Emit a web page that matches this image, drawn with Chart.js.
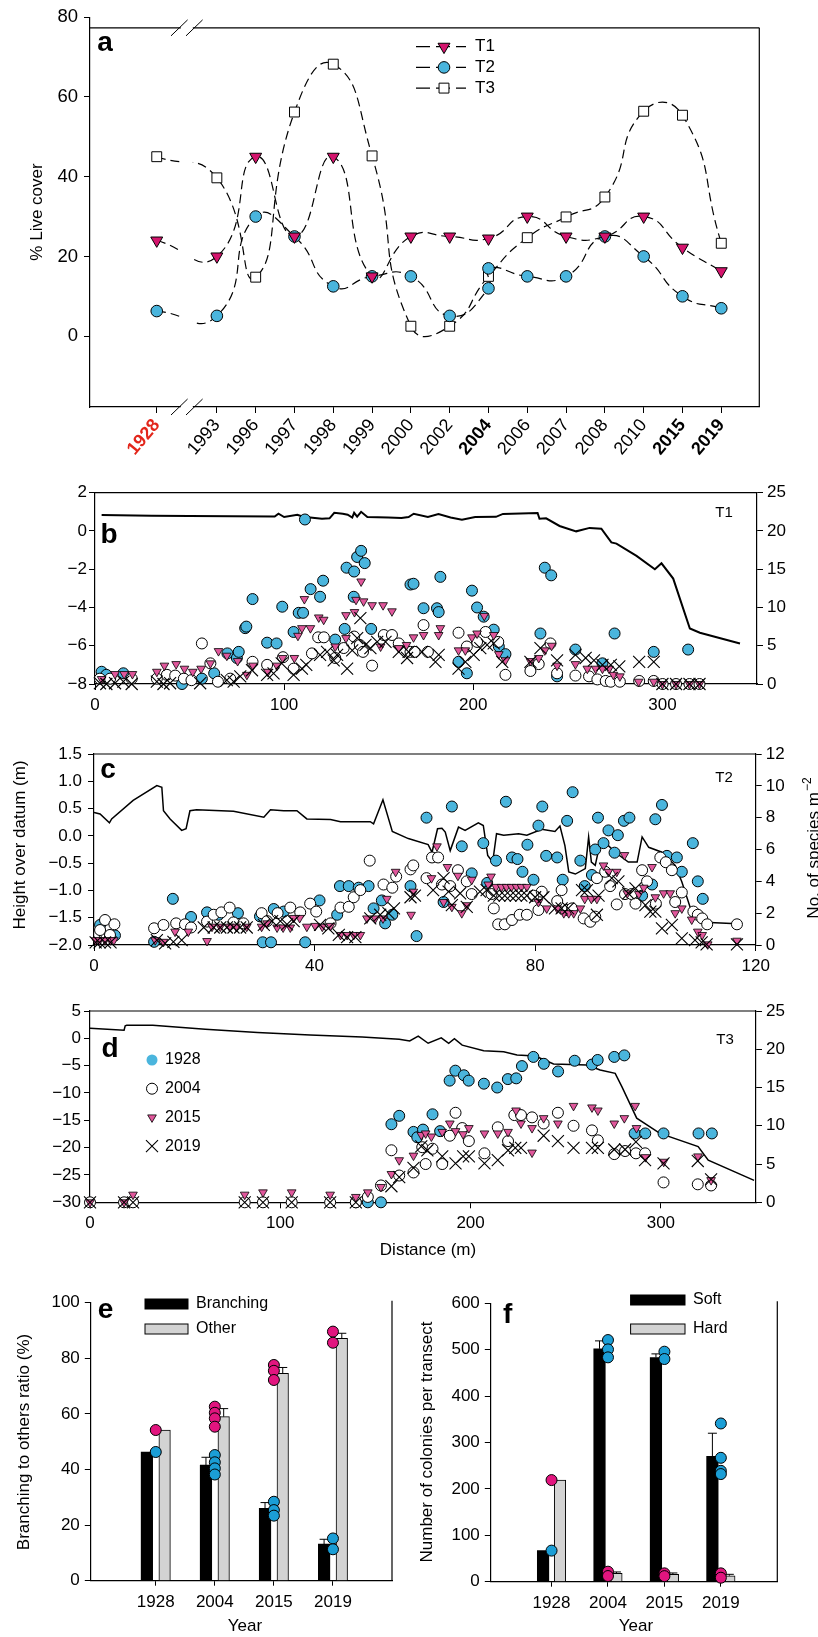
<!DOCTYPE html>
<html>
<head>
<meta charset="utf-8">
<title>Live cover and species along transects</title>
<script src="https://cdn.jsdelivr.net/npm/chart.js@4"></script>
<style>
  html, body { margin: 0; padding: 0; background: #fff; }
  body { position: relative; width: 818px; height: 1637px; overflow: hidden; }
  canvas { position: absolute; }
</style>
</head>
<body>
<script>
// ---------- panel a: % live cover per transect ----------
const yearsA = ['1928', '1993', '1996', '1997', '1998', '1999', '2000', '2002', '2004', '2006', '2007', '2008', '2010', '2015', '2019'];
const boldYearsA = ['1928', '2004', '2015', '2019'];
const redYearA = '1928';
const coverTicks = [0, 20, 40, 60, 80];
const t1Cover = [24, 20, 45, 25, 45, 15, 25, 25, 24.5, 30, 25, 25, 30, 22.2, 16.3];
const t2Cover = [6.3, 5.1, 30, 25, 12.5, 15, 15, 5.1, 12, 15, 15, 25, 20, 10, 7];
const t2Cover2004b = 17; // second 2004 survey on T2
const t3Cover = [45, 39.7, 14.8, 56.2, 68.2, 45.2, 2.5, 2.5, 15, 24.7, 29.9, 34.9, 56.4, 55.4, 23.3];

// ---------- panel b: transect T1 ----------
const distTicks350 = [0, 100, 200, 300];
const heightTicksB = [-8, -6, -4, -2, 0, 2];
const speciesTicks25 = [0, 5, 10, 15, 20, 25];
const profileT1 = [[3.5, 0.83], [30, 0.79], [50, 0.78], [95, 0.75], [97, 0.9], [100, 0.73], [107, 0.85], [110, 0.74], [120, 0.64], [124, 0.66], [126.5, 0.95], [131, 0.9], [133.6, 0.85], [136, 0.7], [137, 0.95], [138.6, 0.75], [140.7, 1.0], [144, 0.73], [155, 0.7], [162, 0.68], [165.8, 0.73], [168.5, 0.9], [176, 0.73], [181.6, 0.89], [188, 0.7], [194, 0.59], [201, 0.73], [212, 0.74], [215.7, 0.89], [234, 0.94], [235, 0.64], [238.5, 0.66], [245.6, 0.26], [254.4, -0.02], [261.5, 0.16], [267.7, 0.12], [273, -0.6], [275.7, -0.66], [286.3, -1.3], [296, -2.0], [299.5, -1.69], [305.7, -2.49], [314.5, -5.1], [319.8, -5.32], [341, -5.88]];
const t1_1928 = [[3.5, 1.6], [6, 1.2], [15, 1.4], [46, 0], [56.5, 0.7], [63, 1.4], [70, 4.0], [75, 3.4], [76, 4.2], [79.4, 7.3], [80, 7.5], [83.3, 11.1], [91, 5.4], [96, 5.3], [99, 10.1], [105, 6.8], [107.7, 9.3], [110, 9.3], [111, 21.5], [114, 12.4], [119, 11.4], [120.6, 13.5], [127, 5.8], [132, 7.2], [133, 15.2], [136.8, 11.4], [137, 14.7], [138.6, 16.6], [140.7, 17.4], [142.6, 15.8], [146, 7.2], [166.8, 13.0], [168.4, 13.1], [173.7, 9.9], [180.8, 9.9], [181.7, 9.4], [182.6, 14.0], [192.2, 2.9], [196.6, 1.4], [199.3, 12.2], [202, 10.0], [205.5, 8.8], [210.8, 7.1], [213.5, 4.9], [217, 3.9], [235.5, 6.6], [237.8, 15.2], [241.2, 14.2], [244.3, 1.0], [254, 4.5], [268.3, 2.7], [274.7, 6.6], [295.4, 4.2], [313.6, 4.5]];
const t1_2004 = [[2.6, 0.7], [8, 0.7], [19.4, 0.7], [32.7, 0.7], [38, 1.2], [42.4, 1.1], [47, 0.7], [51, 0.5], [56.5, 5.3], [61, 2.7], [65, 0.3], [71.5, 0.7], [83.3, 2.9], [91, 2.5], [99.4, 3.5], [105, 2.0], [114.7, 4.0], [118, 6.1], [121, 6.1], [127, 3.4], [131.5, 4.7], [137, 6.2], [140, 5.1], [141.7, 4.2], [146.5, 2.4], [152.7, 6.4], [157, 6.4], [160.6, 5.3], [166.8, 4.2], [169, 4.2], [173.7, 7.7], [176, 4.2], [192.2, 6.7], [196.6, 4.9], [202, 5.5], [206.5, 6.8], [213.2, 5.5], [217, 1.2], [230.2, 1.7], [234.6, 2.6], [240.8, 5.3], [244.3, 1.4], [254, 1.1], [261.2, 1.0], [265.6, 0.6], [270, 0.4], [272.7, 0.3], [277.5, 0.3], [287.7, 0.4], [295.4, 0.4], [300.1, 0], [307.2, 0], [314.3, 0], [319.6, 0]];
const t1_2015 = [[3.5, 0.65], [10.6, 1.3], [15.4, 1.3], [19.8, 1.3], [32.7, 1.6], [36.7, 2.4], [42.9, 2.6], [47.3, 2.0], [51.7, 1.6], [56.1, 2.0], [61, 2.7], [65.3, 4.3], [69.7, 3.7], [75.4, 3.0], [80.3, 1.2], [83.5, 2.4], [91.4, 1.6], [96.2, 2.4], [99.2, 3.4], [105.4, 3.4], [107.3, 6.3], [109.4, 7.3], [110.7, 11.1], [113.9, 7.3], [118.3, 8.7], [120.9, 8.4], [127, 4.9], [132.7, 9.0], [132.7, 6.0], [137.2, 9.4], [138, 11.0], [140.7, 13.4], [142, 10.8], [146.5, 10.3], [151, 4.9], [152.3, 10.3], [157, 9.5], [160.6, 4.7], [164.7, 5.1], [168.4, 6.1], [173.7, 6.4], [181.7, 6.4], [182.6, 7.3], [192.2, 4.4], [195.8, 4.4], [199.3, 6.1], [202, 6.6], [205.8, 8.9], [210.8, 6.4], [213.5, 3.9], [217, 3.1], [230.2, 3.0], [234.6, 3.4], [237.8, 4.4], [241.4, 5.0], [244.3, 2.4], [254, 2.6], [260.3, 2.0], [264.7, 2.0], [268.3, 2.0], [271.8, 2.0], [274.1, 1.2], [277.5, 1.0], [287.4, 0.3], [295.4, 0.3], [300, 0], [307.2, 0], [314.3, 0], [319.6, 0]];
const t1_2019 = [[2.6, 0.1], [6, 0], [10.6, 0.1], [15, 0.3], [19.4, 0], [32.7, 0.3], [36.2, 0], [39.7, 0.1], [55.6, 0.1], [69.7, 0.5], [73.3, 0.3], [76.8, 1.0], [83, 1.8], [91, 1.2], [94.4, 1.4], [98.7, 2.7], [105, 1.2], [109.4, 2.0], [111.7, 2.5], [119, 3.8], [122.7, 4.2], [126.2, 3.1], [128, 3.8], [133.3, 2.0], [136, 4.4], [138.6, 6.0], [140.3, 8.6], [143, 5.1], [145.6, 4.7], [149.2, 5.5], [153.6, 5.5], [160.6, 4.2], [165, 3.4], [165.8, 4.2], [172.9, 4.2], [180, 2.9], [181.7, 3.8], [192.2, 2.0], [195.8, 2.9], [200.2, 3.8], [203.7, 4.7], [207.3, 5.1], [210.8, 5.3], [215.3, 2.9], [230.2, 2.9], [235.5, 4.7], [244.3, 3.1], [254, 3.8], [259.4, 3.4], [263.8, 3.1], [268.3, 2.5], [272.7, 2.5], [277.2, 2.3], [287.7, 2.9], [295.4, 2.9], [300, 0], [307.2, 0], [314.3, 0], [319.6, 0]];

// ---------- panel c: transect T2 ----------
const distTicks120 = [0, 40, 80, 120];
const heightTicksC = [-2, -1.5, -1, -0.5, 0, 0.5, 1, 1.5];
const speciesTicks12 = [0, 2, 4, 6, 8, 10, 12];
const profileT2 = [[0, 0.43], [1.1, 0.40], [2.8, 0.24], [3.2, 0.31], [7.1, 0.65], [11.4, 0.92], [12.3, 0.89], [12.6, 0.46], [13.8, 0.31], [15.9, 0.10], [16.7, 0.13], [17.4, 0.46], [18.6, 0.48], [25.3, 0.45], [30.8, 0.34], [32, 0.48], [34.4, 0.46], [36.8, 0.46], [38.6, 0.31], [42.9, 0.30], [44.7, 0.26], [50.1, 0.26], [50.7, 0.22], [52.4, 0.66], [54.1, 0.08], [57.0, -0.05], [60.6, -0.16], [61.3, -0.30], [62.3, 0.13], [63.1, 0.14], [63.7, 0.07], [64.6, -0.27], [66.1, 0.16], [67.3, 0.10], [69.7, 0.24], [70.6, 0.19], [71.4, -0.36], [72.3, -0.48], [73.0, 0.04], [74.3, 0.01], [77.0, 0.04], [78.5, 0.01], [81.2, 0.12], [83.6, 0.08], [84.5, 0.18], [85.4, -0.18], [86.1, -0.66], [87.3, -0.70], [89.1, -0.60], [89.7, -0.02], [90.2, -0.48], [90.9, -0.54], [91.8, -0.12], [93.3, -0.18], [94.5, -0.30], [96.9, -0.48], [98.5, -0.48], [99.4, -0.02], [100.6, -0.21], [103.0, -0.30], [105.4, -0.54], [106.6, -0.84], [108.4, -1.4], [109.7, -1.58], [116.6, -1.61]];
const t2_1928 = [[1.1, 1.26], [3.8, 0.6], [10.9, 0.2], [14.3, 2.9], [17.6, 1.76], [20.5, 2.05], [22.6, 1.9], [26.1, 2.0], [30.1, 1.8], [30.6, 0.17], [32.1, 0.17], [32.6, 2.26], [34.4, 2.1], [38.3, 0.17], [40.9, 2.8], [44.1, 1.9], [44.6, 3.7], [46.2, 3.7], [48, 3.6], [49.8, 3.7], [50.7, 2.3], [52.2, 2.8], [52.8, 1.36], [54.1, 1.9], [57.4, 3.7], [58.5, 0.56], [60.3, 8.0], [63.4, 2.7], [64.9, 8.7], [66.7, 6.2], [68.5, 4.5], [70.6, 6.4], [71.3, 3.9], [72.9, 5.3], [74.7, 9.0], [75.8, 5.5], [76.8, 5.4], [77.7, 4.6], [78.6, 6.3], [79.7, 4.1], [80.6, 7.5], [81.3, 8.7], [82, 5.6], [84, 5.5], [85, 4.1], [85.8, 7.8], [86.8, 9.6], [88.2, 5.3], [89, 3.7], [90.3, 4.4], [90.9, 6.0], [91.4, 8.0], [92.4, 6.4], [93.3, 7.2], [94.4, 5.8], [95, 6.9], [96.1, 7.8], [97.1, 8.0], [99.4, 3.1], [101.2, 3.8], [101.8, 7.9], [103, 8.8], [103.9, 5.6], [105.7, 5.5], [106.6, 4.6], [108.6, 6.4], [109.5, 4.0], [110.4, 2.9]];
const t2_2004 = [[1.1, 0.94], [2, 1.57], [2.9, 0.63], [3.7, 1.3], [10.9, 1.05], [12.6, 1.26], [14.9, 1.36], [16.5, 1.3], [17.6, 1.1], [20.5, 1.47], [21.7, 1.9], [23.1, 2.05], [24.6, 2.35], [25.3, 1.42], [27.1, 1.36], [30.4, 2.0], [31.4, 1.5], [33.3, 2.0], [35.6, 2.35], [37.4, 2.05], [39.2, 2.6], [40.3, 2.1], [42.9, 1.36], [44.7, 2.35], [46.2, 2.4], [47.1, 3.0], [48.3, 3.45], [50, 5.3], [52.5, 3.8], [54.1, 3.6], [54.8, 4.3], [57.4, 4.75], [57.9, 5.0], [60.3, 4.2], [61.3, 5.5], [62.4, 5.5], [63.1, 3.8], [64.6, 3.7], [66, 4.7], [67.6, 4.0], [68.5, 3.2], [72.1, 3.2], [72.5, 2.3], [73.3, 1.3], [74.5, 1.3], [75.8, 1.57], [77.2, 1.9], [78.5, 1.9], [79.7, 3.1], [80.6, 2.2], [81.2, 3.35], [84, 2.76], [84.8, 3.45], [85.8, 2.2], [86.7, 2.3], [88.8, 1.67], [90, 1.46], [90.9, 1.78], [91.2, 4.2], [92.7, 4.6], [93.6, 3.7], [94.8, 2.55], [96.3, 3.2], [97.5, 3.2], [98.2, 2.6], [99.4, 4.7], [100.3, 4.0], [101.9, 2.6], [102.7, 5.5], [103.7, 5.2], [104.8, 4.7], [105.4, 2.7], [106.6, 3.3], [108.7, 2.1], [109.5, 1.9], [110.3, 1.67], [111.2, 1.3], [116.6, 1.3]];
const t2_2015 = [[0.3, 0.3], [1, 0.3], [2, 0.3], [3, 0.3], [3.6, 0.3], [11.1, 0.3], [12.6, 0.2], [14.7, 0.84], [17.1, 0.84], [20.5, 0.25], [21.4, 1.15], [22.9, 1.15], [24.6, 1.15], [25.8, 1.15], [27.7, 1.15], [30.4, 1.15], [31.4, 1.36], [33.2, 1.1], [34.3, 1.1], [35.6, 1.1], [36.2, 1.7], [37.3, 1.7], [38.6, 1.15], [40.1, 1.2], [41.4, 1.15], [42.9, 1.2], [44.7, 0.63], [45.9, 0.63], [47.1, 0.63], [48.3, 0.63], [49.5, 1.67], [51, 1.67], [52.4, 1.67], [53.1, 2.9], [54.7, 4.6], [57.5, 1.9], [57.9, 3.35], [61.2, 4.2], [62.2, 6.2], [63.4, 2.7], [64.1, 4.9], [64.9, 2.4], [66, 4.35], [66.7, 2.0], [67.6, 2.5], [68.5, 4.1], [71.5, 3.8], [72, 4.3], [72.9, 3.65], [73.9, 3.65], [74.8, 3.65], [75.7, 3.65], [76.6, 3.65], [77.5, 3.65], [78.5, 3.65], [80.6, 2.7], [82.1, 2.3], [84, 2.3], [85.2, 2.0], [86.1, 2.0], [87, 2.0], [88.2, 2.3], [89, 2.9], [90.2, 2.9], [91.2, 2.9], [92.4, 5.0], [93.3, 4.6], [94.8, 4.6], [96.2, 5.65], [96.7, 3.25], [98.8, 3.2], [99.7, 3.6], [101.2, 4.9], [101.8, 3.0], [103.3, 3.25], [104.5, 3.25], [105.4, 2.0], [106.6, 2.3], [108.4, 1.6], [109.5, 0.84], [110.3, 0.63], [111.3, 0.04], [116.6, 0.27]];
const t2_2019 = [[0.3, 0.17], [1, 0.17], [2, 0.17], [3, 0.17], [11.4, 0.3], [12.9, 0.1], [14.4, 0.2], [15.9, 0.3], [19.9, 1.1], [21.7, 1.1], [22.9, 1.1], [24.1, 1.1], [25.3, 1.1], [26.5, 1.1], [27.7, 1.1], [30.8, 1.26], [32.3, 1.5], [33.8, 1.5], [35, 1.3], [36.2, 1.5], [41, 1.26], [42.5, 1.05], [44.4, 0.63], [45.9, 0.5], [47.4, 0.5], [50.1, 1.67], [51.9, 1.9], [53.4, 2.0], [54.4, 2.3], [57.4, 3.0], [58.2, 3.1], [61.5, 3.45], [63.4, 4.2], [64.3, 3.35], [64.9, 2.5], [66.4, 3.25], [67.6, 2.4], [70, 3.35], [71.2, 3.45], [72.5, 3.1], [73.5, 3.1], [74.5, 3.1], [75.5, 3.1], [76.5, 3.1], [77.5, 3.1], [78.5, 3.1], [80, 3.0], [81.5, 3.0], [83.6, 2.3], [84.8, 2.3], [86, 2.3], [88.5, 3.45], [89.4, 3.45], [91.2, 1.9], [91.5, 3.1], [93.9, 4.2], [95.1, 4.0], [96.9, 3.25], [98.2, 3.55], [100, 2.5], [100.9, 2.1], [101.8, 2.1], [103, 1.05], [104.8, 1.26], [106.6, 0.42], [109, 0.31], [110.2, 0.17], [111.1, 0.04], [116.6, 0.04]];

// ---------- panel d: transect T3 ----------
const heightTicksD = [-30, -25, -20, -15, -10, -5, 0, 5];
const profileT3 = [[0, 1.83], [17.9, 1.47], [18.5, 2.3], [19.3, 2.38], [33, 2.4], [60.6, 1.65], [88, 1.05], [115.7, 0.63], [143, 0.25], [162.5, -0.18], [168, -0.48], [172.5, 0.4], [177.7, -0.9], [184.6, 0.1], [188.5, -0.9], [191.5, -0.06], [195.6, -1.24], [206.9, -2.26], [217.4, -2.44], [224.4, -3.05], [234, -3.23], [243.6, -4.7], [261.1, -4.88], [268.1, -5.8], [276, -6.4], [279.5, -8.85], [287.3, -14.6], [299.5, -17.4], [319.6, -19.8], [324.9, -22.3], [349, -26.0]];
const t3_1928 = [[139.7, 0], [146, 0], [152.9, 0], [158.4, 10.2], [162.5, 11.3], [170, 9.2], [172, 8.5], [175, 9.5], [180, 11.5], [184, 9.3], [189, 15.9], [192, 17.2], [196.5, 16.6], [199, 15.9], [207, 15.5], [214, 15.0], [219.6, 16.1], [224, 16.2], [227, 17.8], [233, 19.0], [238.5, 18.1], [246, 17.1], [254.7, 18.5], [263.8, 18.0], [266.8, 18.6], [275.5, 19.0], [280.8, 19.2], [286.2, 9.0], [291.8, 9.0], [301.4, 9.0], [319.8, 9.0], [326.8, 9.0]];
const t3_2004 = [[0, 0], [17.9, 0], [22.6, 0], [81.3, 0], [90.9, 0], [106, 0], [126.2, 0], [139.7, 0], [146, 0.7], [152.9, 2.2], [158.4, 6.8], [162.5, 3.5], [170, 3.9], [174.6, 7.2], [176.4, 5.0], [180, 7.0], [185.1, 5.0], [189.1, 8.7], [192.1, 11.7], [195.6, 9.7], [199.1, 8.0], [207.3, 6.4], [214.3, 9.8], [219.7, 8.0], [223, 11.4], [226.5, 11.4], [232.3, 11.1], [238.4, 10.3], [245.9, 11.7], [254.1, 10.0], [263.8, 9.4], [266.9, 8.1], [275.5, 6.3], [281.2, 6.7], [286.9, 6.4], [291.7, 6.4], [301.4, 2.6], [319.4, 2.35], [326.4, 2.2]];
const t3_2015 = [[0, 0], [17.9, 0], [22.6, 1.0], [81.3, 1.0], [90.9, 1.3], [106, 1.3], [126.2, 1.0], [139.7, 0.7], [146, 1.3], [152.9, 2.0], [158.4, 3.7], [162.5, 5.5], [170, 6.1], [174.1, 8.8], [176.4, 9.0], [179.4, 8.6], [185.1, 9.2], [189.1, 10.3], [192.1, 9.3], [196.1, 8.9], [199.1, 9.7], [207.3, 9.0], [214.3, 9.0], [219.7, 9.2], [223.9, 12.0], [226.5, 10.3], [232.3, 6.5], [232.3, 9.7], [238.4, 11.0], [245.9, 10.3], [254.1, 12.6], [263.8, 12.4], [266.9, 12.0], [275.5, 10.3], [280.8, 11.0], [286.5, 12.6], [287.2, 9.7], [291.9, 5.9], [301.5, 5.3], [319.5, 6.0], [326.4, 2.9]];
const t3_2019 = [[0, 0], [17.9, 0], [22.6, 0], [81.3, 0], [90.9, 0], [106, 0], [126.2, 0], [139.7, 0], [158.4, 2.1], [162.5, 3.3], [170, 4.5], [174.1, 7.3], [177.3, 6.8], [185.1, 6.0], [192.1, 5.1], [196.1, 6.0], [199.1, 6.0], [207.3, 5.1], [214.3, 5.5], [219.7, 6.8], [223.5, 7.1], [226.5, 7.1], [238.4, 8.7], [245.9, 8.0], [254.1, 7.1], [263.8, 7.1], [266.9, 7.1], [275.5, 6.9], [281.2, 6.9], [286.9, 7.9], [291.7, 5.5], [301.4, 5.1], [319.4, 5.4], [326.4, 3.0]];

// ---------- panels e, f: survey years ----------
const surveyYears = ['1928', '2004', '2015', '2019'];
const ratioTicks = [0, 20, 40, 60, 80, 100];
const branching = [46.3, 41.6, 26.0, 13.2];
const branchingErr = [0, 2.8, 2.1, 1.7];
const other = [54.2, 59.0, 74.6, 87.2];
const otherErr = [0, 2.9, 2.1, 1.8];
const branchingPts = [[46.3], [45.2, 42.6, 40.4, 38.2], [28.4, 25.4, 23.4], [15.2, 11.3]];
const otherPts = [[54.2], [62.6, 60.4, 58.4, 55.4], [77.6, 75.5, 72.2], [89.6, 85.6]];
const colonyTicks = [0, 100, 200, 300, 400, 500, 600];
const soft = [66.8, 502, 483, 270];
const softErr = [0, 17, 8, 50];
const hard = [219, 18, 15.8, 12.9];
const hardErr = [0, 3, 3, 3];
const softPts = [[67], [520.8, 500.7, 483.5], [495.7, 479.9], [341, 267, 239, 232]];
const hardPts = [[219], [21.6, 12.2], [18, 12], [18, 8.6]];

// ---------- look ----------
const FONT = '"Liberation Sans", Arial, Helvetica, sans-serif';
Chart.defaults.font.family = FONT;
Chart.defaults.font.size = 16;
Chart.defaults.color = '#000';
Chart.defaults.animation = false;
Chart.defaults.events = [];
Chart.defaults.plugins.legend.display = false;
Chart.defaults.plugins.tooltip.enabled = false;

const CYAN = '#4ab5dd';
const PINK = '#d4146d';
const PINK_LIGHT = '#e0579b';
const CYAN_DARK = '#1b9ed6';
const PINK_DARK = '#e2157f';
const GREY = '#d3d3d3';
const RED = '#e3261b';

function makeCanvas(box) {
  const c = document.createElement('canvas');
  c.width = box.w;
  c.height = box.h;
  c.style.cssText = `left:${box.x}px;top:${box.y}px;width:${box.w}px;height:${box.h}px`;
  document.body.appendChild(c);
  return c;
}

// page coordinates -> canvas coordinates through the box
function text(ctx, box, s, x, y, o = {}) {
  ctx.save();
  ctx.font = `${o.weight || 'normal'} ${o.size || 16}px ${FONT}`;
  ctx.fillStyle = o.color || '#000';
  ctx.textAlign = o.align || 'center';
  ctx.textBaseline = o.base || 'middle';
  ctx.translate(x - box.x, y - box.y);
  if (o.rot) ctx.rotate(o.rot);
  ctx.fillText(s, 0, 0);
  ctx.restore();
}

function seg(ctx, x1, y1, x2, y2, w = 1.2) {
  ctx.save();
  ctx.strokeStyle = '#000';
  ctx.lineWidth = w;
  ctx.beginPath();
  ctx.moveTo(x1, y1);
  ctx.lineTo(x2, y2);
  ctx.stroke();
  ctx.restore();
}

function marker(ctx, style, x, y, r, fill, rot = 0, bw = 1) {
  ctx.save();
  ctx.fillStyle = fill;
  ctx.strokeStyle = '#000';
  ctx.lineWidth = bw;
  ctx.setLineDash([]);
  Chart.helpers.drawPoint(ctx, { pointStyle: style, radius: r, rotation: rot, borderWidth: bw }, x, y);
  ctx.restore();
}

const fixedTicks = values => s => { s.ticks = values.map(value => ({ value })); };
const minus = v => (v < 0 ? '\u2212' + Math.abs(v) : String(v));
const minus1 = v => (v < 0 ? '\u2212' : '') + Math.abs(v).toFixed(1);
const axisLook = tickLength => ({
  grid: { drawOnChartArea: false, color: '#000', lineWidth: 1, tickLength },
  border: { color: '#000', width: 1.2 }
});
const deco = (box, fn) => ({ id: 'deco', afterDraw(chart) { fn(chart.ctx, chart, box); } });

// ---------- panel a ----------
const BREAK_GAP = 0.55;
const posA = yearsA.map((y, i) => (i === 0 ? 0 : i + BREAK_GAP));
const coverPoints = vals => vals.map((v, i) => ({ x: posA[i], y: v }));
const t2Points = [];
yearsA.forEach((y, i) => {
  t2Points.push({ x: posA[i], y: t2Cover[i] });
  if (y === '2004') t2Points.push({ x: posA[i], y: t2Cover2004b });
});
const coverSet = (data, style, radius, fill, rotation = 0) => ({
  data, borderColor: '#000', borderWidth: 1.2, borderDash: [9, 5], tension: 0.55,
  pointStyle: style, pointRadius: radius, pointRotation: rotation,
  pointBackgroundColor: fill, pointBorderColor: '#000', pointBorderWidth: 1, clip: false
});

const boxA = { x: 0, y: 0, w: 818, h: 465 };
const areaA = { l: 90, t: 16.7, r: 759.3, b: 407 };
const legendA = [
  ['T1', 'triangle', 6.9, PINK, 180],
  ['T2', 'circle', 5.8, CYAN, 0],
  ['T3', 'rect', 7, '#fff', 0]
];

new Chart(makeCanvas(boxA), {
  type: 'line',
  data: {
    datasets: [
      coverSet(coverPoints(t1Cover), 'triangle', 6.9, PINK, 180),
      coverSet(t2Points, 'circle', 5.8, CYAN),
      coverSet(coverPoints(t3Cover), 'rect', 7, '#fff')
    ]
  },
  options: {
    responsive: false,
    layout: { padding: { top: areaA.t - boxA.y, right: boxA.x + boxA.w - areaA.r, left: 0, bottom: 0 } },
    scales: {
      x: {
        type: 'linear', min: -1.72, max: 15.53,
        afterBuildTicks: fixedTicks(posA),
        afterFit: s => { s.height = boxA.y + boxA.h - areaA.b; },
        ticks: {
          autoSkip: false, minRotation: 50, maxRotation: 50, padding: 2,
          callback: (v, i) => yearsA[i],
          color: c => (yearsA[c.index] === redYearA ? RED : '#000'),
          font: c => ({ size: 18, weight: boldYearsA.includes(yearsA[c.index]) ? 'bold' : 'normal' })
        },
        ...axisLook(6)
      },
      y: {
        min: -17.75, max: 80,
        afterBuildTicks: fixedTicks(coverTicks),
        afterFit: s => { s.width = areaA.l - boxA.x; },
        ticks: { padding: 6, font: { size: 18.5 } },
        ...axisLook(6)
      }
    }
  },
  plugins: [deco(boxA, (ctx, chart, box) => {
    const { left, right, bottom } = chart.chartArea;
    const xs = chart.scales.x, ys = chart.scales.y;
    const top = ys.getPixelForValue(77.3);
    seg(ctx, left, top, right, top);
    seg(ctx, right, top, right, bottom);
    // axis break between 1928 and 1993
    const xb = (xs.getPixelForValue(posA[0]) + xs.getPixelForValue(posA[1])) / 2;
    ctx.fillStyle = '#fff';
    ctx.fillRect(xb - 6, top - 3, 12, bottom - top + 6);
    for (const y of [top, bottom]) {
      for (const dx of [-7.5, 7.5]) seg(ctx, xb + dx - 8.3, y + 8, xb + dx + 8.3, y - 8, 1);
    }
    // legend
    legendA.forEach(([lab, style, r, fill, rot], k) => {
      const y = 46.7 + k * 20.7;
      ctx.save();
      ctx.setLineDash([14, 6]);
      seg(ctx, 416, y, 466, y, 1.2);
      ctx.restore();
      marker(ctx, style, 444, y, r, fill, rot);
      text(ctx, box, lab, 475, y, { align: 'left', size: 17 });
    });
    text(ctx, box, 'a', 105, 43, { weight: 'bold', size: 28 });
    text(ctx, box, '% Live cover', 37, 212, { size: 17, rot: -Math.PI / 2 });
  })]
});

// ---------- panels b, c, d ----------
function transect(o) {
  const { box, area } = o;
  const pts = arr => arr.map(([x, y]) => ({ x, y }));
  new Chart(makeCanvas(box), {
    type: 'scatter',
    data: {
      datasets: [
        { data: pts(o.s2019), yAxisID: 'y2', pointStyle: 'crossRot', pointRadius: 8.5, pointBorderColor: '#000', pointBorderWidth: 1.1, clip: false },
        { data: pts(o.s2015), yAxisID: 'y2', pointStyle: 'triangle', pointRotation: 180, pointRadius: 5, pointBackgroundColor: PINK_LIGHT, pointBorderColor: '#000', pointBorderWidth: 0.8, clip: false },
        { data: pts(o.s2004), yAxisID: 'y2', pointStyle: 'circle', pointRadius: 5.5, pointBackgroundColor: '#fff', pointBorderColor: '#000', pointBorderWidth: 1, clip: false },
        { data: pts(o.s1928), yAxisID: 'y2', pointStyle: 'circle', pointRadius: 5.5, pointBackgroundColor: CYAN, pointBorderColor: '#000', pointBorderWidth: 1, clip: false },
        { data: pts(o.profile), yAxisID: 'y', showLine: true, pointRadius: 0, borderColor: '#000', borderWidth: o.lineW, tension: 0 }
      ]
    },
    options: {
      responsive: false,
      layout: { padding: { top: area.t - box.y, left: 0, right: 0, bottom: 0 } },
      scales: {
        x: {
          type: 'linear', min: 0, max: o.xMax,
          afterBuildTicks: fixedTicks(o.xTicks),
          afterFit: s => { s.height = box.y + box.h - area.b; },
          ticks: { padding: 5, font: { size: 17 } },
          ...axisLook(6)
        },
        y: {
          position: 'left', min: o.yTicks[0], max: o.yTicks[o.yTicks.length - 1],
          afterBuildTicks: fixedTicks(o.yTicks),
          afterFit: s => { s.width = area.l - box.x; },
          ticks: { padding: o.padL, font: { size: 17 }, callback: o.yFmt },
          ...axisLook(6)
        },
        y2: {
          position: 'right', min: 0, max: o.rTicks[o.rTicks.length - 1],
          afterBuildTicks: fixedTicks(o.rTicks),
          afterFit: s => { s.width = box.x + box.w - area.r; },
          ticks: { padding: 4, font: { size: 17 } },
          ...axisLook(6)
        }
      }
    },
    plugins: [deco(box, (ctx, chart) => {
      const { left, right, top } = chart.chartArea;
      seg(ctx, left, top, right, top);
      text(ctx, box, o.letter, o.letterAt[0], o.letterAt[1], { weight: 'bold', size: 28 });
      text(ctx, box, o.tag, o.tagAt[0], o.tagAt[1], { size: 15 });
      if (o.extra) o.extra(ctx, chart);
    })]
  });
}

transect({
  box: { x: 0, y: 470, w: 818, h: 250 }, area: { l: 95, t: 492.7, r: 757, b: 684 },
  xMax: 350, xTicks: distTicks350, yTicks: heightTicksB, yFmt: minus, rTicks: speciesTicks25, padL: 2,
  profile: profileT1, s1928: t1_1928, s2004: t1_2004, s2015: t1_2015, s2019: t1_2019, lineW: 2,
  letter: 'b', letterAt: [109, 535], tag: 'T1', tagAt: [724, 513]
});

const boxC = { x: 0, y: 725, w: 818, h: 255 };
transect({
  box: boxC, area: { l: 94, t: 754, r: 755.7, b: 945 },
  xMax: 120, xTicks: distTicks120, yTicks: heightTicksC, yFmt: minus1, rTicks: speciesTicks12, padL: 6,
  profile: profileT2, s1928: t2_1928, s2004: t2_2004, s2015: t2_2015, s2019: t2_2019, lineW: 1.5,
  letter: 'c', letterAt: [108, 770], tag: 'T2', tagAt: [724, 778],
  extra: (ctx) => {
    text(ctx, boxC, 'Height over datum (m)', 20, 845, { size: 17, rot: -Math.PI / 2 });
    // right-hand title, cut by the page edge as in the figure
    ctx.save();
    ctx.translate(818.5 - boxC.x, 848 - boxC.y);
    ctx.rotate(-Math.PI / 2);
    ctx.fillStyle = '#000';
    ctx.textBaseline = 'alphabetic';
    ctx.textAlign = 'left';
    ctx.font = `17px ${FONT}`;
    const main = 'No. of species m';
    const wMain = ctx.measureText(main).width;
    ctx.font = `12px ${FONT}`;
    const sup = '\u22122';
    const wSup = ctx.measureText(sup).width;
    const x0 = -(wMain + wSup + 1) / 2;
    ctx.fillText(sup, x0 + wMain + 1, -8);
    ctx.font = `17px ${FONT}`;
    ctx.fillText(main, x0, 0);
    ctx.restore();
  }
});

const boxD = { x: 0, y: 985, w: 818, h: 285 };
const legendD = [
  ['1928', 'circle', 5.5, CYAN, 0, 0],
  ['2004', 'circle', 5.5, '#fff', 0, 1],
  ['2015', 'triangle', 5, PINK_LIGHT, 180, 0.8],
  ['2019', 'crossRot', 8.5, '#000', 0, 1.1]
];
transect({
  box: boxD, area: { l: 90, t: 1011, r: 756, b: 1202.3 },
  xMax: 350, xTicks: distTicks350, yTicks: heightTicksD, yFmt: minus, rTicks: speciesTicks25, padL: 3,
  profile: profileT3, s1928: t3_1928, s2004: t3_2004, s2015: t3_2015, s2019: t3_2019, lineW: 1.5,
  letter: 'd', letterAt: [110, 1049], tag: 'T3', tagAt: [725, 1040],
  extra: (ctx) => {
    legendD.forEach(([lab, style, r, fill, rot, bw], k) => {
      const y = 1060 + k * 28.7;
      marker(ctx, style, 152 - boxD.x, y - boxD.y, r, fill, rot, bw);
      text(ctx, boxD, lab, 165, y, { align: 'left', size: 16 });
    });
    text(ctx, boxD, 'Distance (m)', 428, 1250, { size: 17 });
  }
});

// ---------- panels e, f ----------
function barPanel(o) {
  const { box, area } = o;
  const OFF = 0.15;
  const bars = (vals, color, side) => ({
    type: 'bar', data: vals.map((v, i) => ({ x: i + side * OFF, y: v })),
    backgroundColor: color, borderColor: '#000', borderWidth: color === GREY ? 1 : 0,
    barThickness: 11.5, grouped: false, order: 2
  });
  const dots = (groups, color) => ({
    type: 'scatter', data: groups.flatMap((g, i) => g.map(v => ({ x: i, y: v }))),
    pointRadius: 5.5, pointBackgroundColor: color, pointBorderColor: '#000', pointBorderWidth: 1,
    showLine: false, order: 0, clip: false
  });
  new Chart(makeCanvas(box), {
    type: 'bar',
    data: {
      datasets: [
        dots(o.greyPts, PINK_DARK),
        dots(o.blackPts, CYAN_DARK),
        bars(o.black, '#000', -1),
        bars(o.grey, GREY, 1)
      ]
    },
    options: {
      responsive: false,
      layout: { padding: { top: area.t - box.y, right: box.x + box.w - area.r, left: 0, bottom: 0 } },
      scales: {
        x: {
          type: 'linear', offset: false, min: o.xMin, max: 4.0,
          afterBuildTicks: fixedTicks(surveyYears.map((y, i) => i)),
          afterFit: s => { s.height = box.y + box.h - area.b; },
          ticks: { padding: 6, font: { size: 17 }, callback: (v, i) => surveyYears[i] },
          ...axisLook(5),
          grid: { drawOnChartArea: false, color: '#000', lineWidth: 1, tickLength: 5, offset: false }
        },
        y: {
          min: 0, max: o.yTicks[o.yTicks.length - 1],
          afterBuildTicks: fixedTicks(o.yTicks),
          afterFit: s => { s.width = area.l - box.x; },
          ticks: { padding: 5, font: { size: 17 } },
          ...axisLook(6)
        }
      }
    },
    plugins: [{
      id: 'errors',
      beforeDatasetsDraw(chart) {
        const ctx = chart.ctx, xs = chart.scales.x, ys = chart.scales.y;
        const draw = (vals, errs, side) => vals.forEach((v, i) => {
          if (!errs[i]) return;
          const x = xs.getPixelForValue(i + side * OFF);
          const y0 = ys.getPixelForValue(v), y1 = ys.getPixelForValue(v + errs[i]);
          seg(ctx, x, y0, x, y1, 1);
          seg(ctx, x - 4.5, y1, x + 4.5, y1, 1);
        });
        draw(o.black, o.blackErr, -1);
        draw(o.grey, o.greyErr, 1);
      }
    }, deco(box, (ctx, chart) => {
      const { right, top, bottom } = chart.chartArea;
      seg(ctx, right, top - 2, right, bottom);
      text(ctx, box, o.letter, o.letterAt[0], o.letterAt[1], { weight: 'bold', size: 28 });
      o.legend.forEach(([lab, fill], k) => {
        const y = o.legendY[k];
        ctx.save();
        ctx.fillStyle = fill;
        ctx.strokeStyle = '#000';
        ctx.lineWidth = 1;
        ctx.fillRect(o.legendX[0] - box.x, y - 5 - box.y, o.legendX[1] - o.legendX[0], 10);
        ctx.strokeRect(o.legendX[0] - box.x, y - 5 - box.y, o.legendX[1] - o.legendX[0], 10);
        ctx.restore();
        text(ctx, box, lab, o.legendX[1] + 8, y, { align: 'left', size: 16 });
      });
      text(ctx, box, o.yTitle, o.yTitleAt[0], o.yTitleAt[1], { size: 17, rot: -Math.PI / 2 });
      text(ctx, box, 'Year', o.yearX, 1626, { size: 17 });
    })]
  });
}

barPanel({
  box: { x: 0, y: 1280, w: 409, h: 357 }, area: { l: 90.8, t: 1302.7, r: 392, b: 1580.7 },
  xMin: -1.1, yTicks: ratioTicks,
  black: branching, blackErr: branchingErr, grey: other, greyErr: otherErr,
  blackPts: branchingPts, greyPts: otherPts,
  letter: 'e', letterAt: [105.5, 1310],
  legend: [['Branching', '#000'], ['Other', GREY]], legendX: [145, 188], legendY: [1304, 1329],
  yTitle: 'Branching to others ratio (%)', yTitleAt: [24, 1442], yearX: 245
});

barPanel({
  box: { x: 409, y: 1280, w: 409, h: 357 }, area: { l: 490.8, t: 1303.3, r: 777.3, b: 1581.7 },
  xMin: -1.076, yTicks: colonyTicks,
  black: soft, blackErr: softErr, grey: hard, greyErr: hardErr,
  blackPts: softPts, greyPts: hardPts,
  letter: 'f', letterAt: [507.6, 1315],
  legend: [['Soft', '#000'], ['Hard', GREY]], legendX: [630.6, 685], legendY: [1300, 1329],
  yTitle: 'Number of colonies per transect', yTitleAt: [427, 1442], yearX: 636
});
</script>
</body>
</html>
